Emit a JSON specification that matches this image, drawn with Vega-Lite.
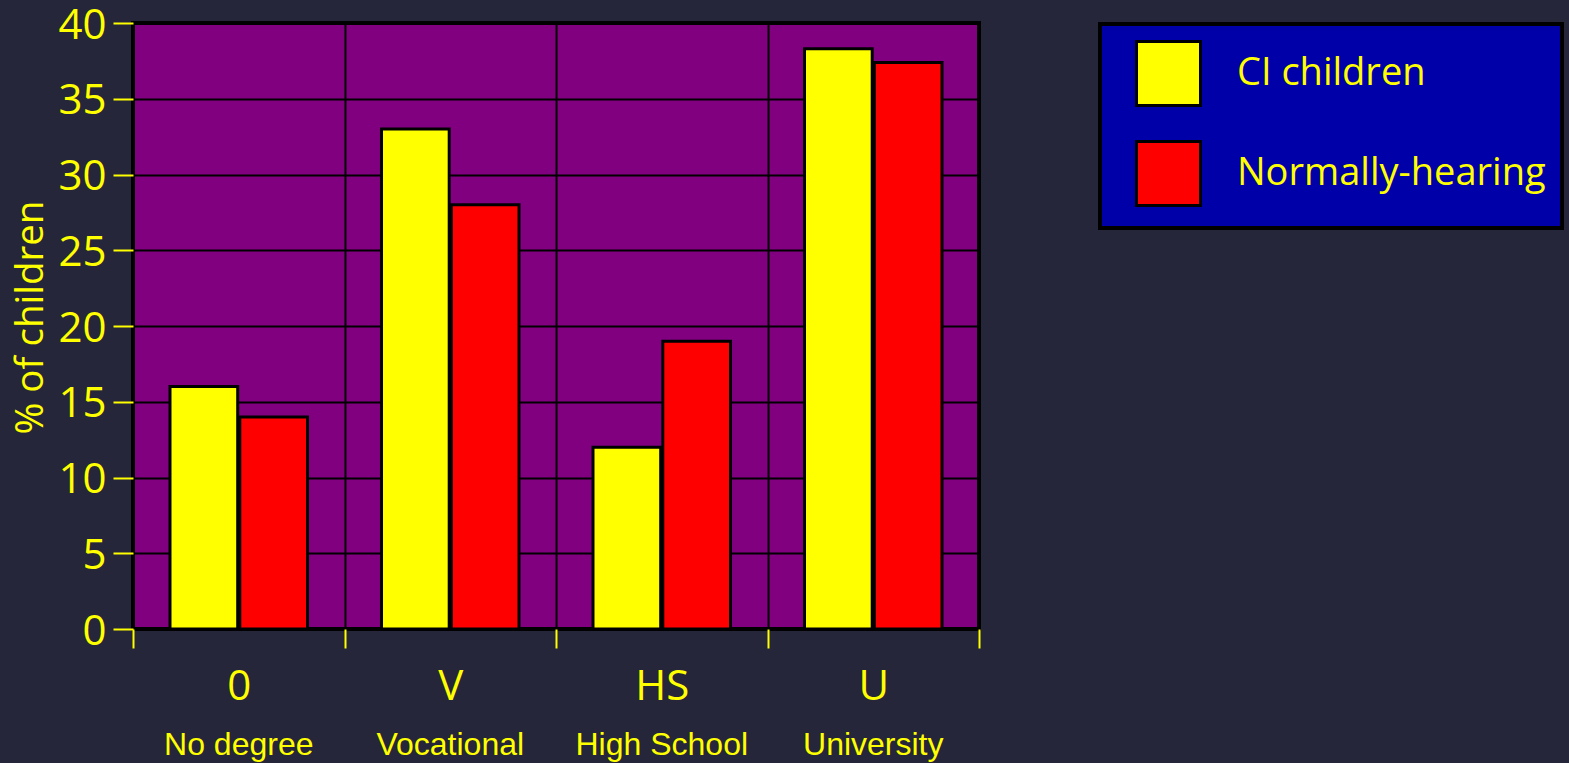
{
  "$schema": "https://vega.github.io/schema/vega-lite/v6.json",
  "width": 846,
  "height": 606,
  "autosize": "none",
  "padding": {"left": 133, "top": 23, "right": 590, "bottom": 134},
  "background": "#25263a",
  "config": {
    "view": {"fill": "#800080", "stroke": "#000000", "strokeWidth": 4},
    "font": "Open Sans"
  },
  "data": {
    "values": [
      {"level": "No degree", "code": "0", "group": "CI children", "pct": 16},
      {"level": "No degree", "code": "0", "group": "Normally-hearing", "pct": 14},
      {"level": "Vocational", "code": "V", "group": "CI children", "pct": 33},
      {"level": "Vocational", "code": "V", "group": "Normally-hearing", "pct": 28},
      {"level": "High School", "code": "HS", "group": "CI children", "pct": 12},
      {"level": "High School", "code": "HS", "group": "Normally-hearing", "pct": 19},
      {"level": "University", "code": "U", "group": "CI children", "pct": 38.3},
      {"level": "University", "code": "U", "group": "Normally-hearing", "pct": 37.4}
    ]
  },
  "layer": [
    {
      "mark": {"type": "bar", "stroke": "#000000", "strokeWidth": 3},
      "encoding": {
        "x": {
          "field": "level",
          "type": "nominal",
          "sort": ["No degree", "Vocational", "High School", "University"],
          "scale": {"paddingInner": 0, "paddingOuter": 0},
          "axis": {
            "orient": "bottom",
            "title": null,
            "labelAngle": 0,
            "labelExpr": "datum.value == 'No degree' ? '0' : datum.value == 'Vocational' ? 'V' : datum.value == 'High School' ? 'HS' : datum.value == 'University' ? 'U' : ''",
            "labelFont": "Open Sans",
            "labelFontSize": 42,
            "labelColor": "#ffff00",
            "labelPadding": 18,
            "tickBand": "extent",
            "tickColor": "#ffff00",
            "tickSize": 19,
            "tickWidth": 2,
            "domain": false,
            "grid": true,
            "gridColor": "#000000",
            "gridWidth": 2,
            "gridOpacity": 1
          }
        },
        "xOffset": {
          "field": "group",
          "type": "nominal",
          "scale": {"paddingOuter": 0.53, "paddingInner": 0.03}
        },
        "y": {
          "field": "pct",
          "type": "quantitative",
          "scale": {"domain": [0, 40], "nice": false},
          "axis": {
            "title": "% of children",
            "titleFont": "Open Sans",
            "titleFontSize": 38.5,
            "titleFontWeight": "normal",
            "titleColor": "#ffff00",
            "titlePadding": 7,
            "titleY": 294,
            "values": [0, 5, 10, 15, 20, 25, 30, 35, 40],
            "labelFont": "Open Sans",
            "labelFontSize": 42,
            "labelColor": "#ffff00",
            "labelPadding": 7,
            "labelOffset": 2,
            "tickColor": "#ffff00",
            "tickSize": 20,
            "tickWidth": 2,
            "domain": false,
            "grid": true,
            "gridColor": "#000000",
            "gridWidth": 2,
            "gridOpacity": 1
          }
        },
        "color": {
          "field": "group",
          "type": "nominal",
          "scale": {"domain": ["CI children", "Normally-hearing"], "range": ["#ffff00", "#ff0000"]},
          "legend": {
            "title": null,
            "orient": "none",
            "legendX": 967,
            "legendY": 1,
            "fillColor": "#0000a8",
            "strokeColor": "#000000",
            "padding": 16,
            "symbolType": "square",
            "symbolSize": 4096,
            "symbolStrokeColor": "#000000",
            "symbolStrokeWidth": 3,
            "symbolOpacity": 1,
            "symbolOffset": 19,
            "labelOffset": 35,
            "labelFont": "Open Sans",
            "labelFontSize": 38,
            "labelColor": "#ffff00",
            "labelLimit": 600,
            "rowPadding": 23,
            "encode": {"legend": {"update": {"strokeWidth": {"value": 4}}}}
          }
        }
      }
    },
    {
      "mark": {"type": "point", "opacity": 0},
      "encoding": {
        "x": {
          "field": "level",
          "type": "nominal",
          "sort": ["No degree", "Vocational", "High School", "University"],
          "axis": {
            "orient": "bottom",
            "title": null,
            "labelAngle": 0,
            "labelFont": "Liberation Sans",
            "labelFontSize": 32,
            "labelColor": "#ffff00",
            "labelPadding": 100,
            "ticks": false,
            "domain": false,
            "grid": false
          }
        }
      }
    }
  ],
  "resolve": {"axis": {"x": "independent"}}
}
